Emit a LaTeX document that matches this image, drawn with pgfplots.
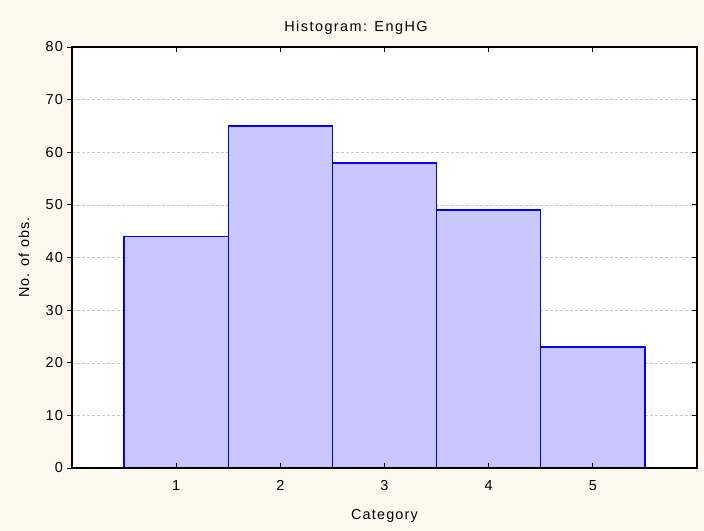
\documentclass[border=0pt]{standalone}
\usepackage{fontspec}
\setmainfont{Liberation Sans}[LetterSpace=8]
\newfontfamily\titlefont{Liberation Sans}[LetterSpace=10]
\usepackage{pgfplots}
\pgfplotsset{compat=1.18}
\definecolor{bgcream}{RGB}{253,249,238}
\definecolor{barfill}{RGB}{200,200,255}
\newcommand{\chartfont}{\fontsize{14.5}{17}\selectfont}
\begin{document}
\chartfont
\begin{tikzpicture}
\fill[bgcream] (-72bp,-63bp) rectangle (632bp,468bp);
\useasboundingbox (-72bp,-63bp) rectangle (632bp,468bp);
% main axis: bars, grid, labels
\begin{axis}[
  at={(0,0)}, anchor=south west,
  scale only axis, width=625bp, height=421bp,
  xmin=0, xmax=6, ymin=0, ymax=80,
  xtick={1,...,5}, ytick={0,10,...,80},
  xtick align=inside, ytick pos=left, ytick align=outside,
  major tick length=5bp,
  tick style={black, line width=0.8pt},
  /pgf/number format/assume math mode=true,
  tick label style={font=\chartfont},
  label style={font=\chartfont},
  axis background/.style={fill=white},
  axis line style={black, line width=1pt},
  ymajorgrids,
  grid style={densely dashed, gray!45, line width=0.4pt},
  xticklabel style={inner sep=0pt, yshift=-12bp},
  yticklabel style={inner sep=0pt, xshift=-4bp},
  title={\titlefont Histogram: EngHG},
  title style={font=\chartfont, at={(axis description cs:0.4544,1)}, anchor=south, yshift=6bp, inner sep=0pt},
  xlabel={Category},
  xlabel style={at={(axis description cs:0.5,0)}, anchor=north, yshift=-41bp, inner sep=0pt},
  ylabel={No. of obs.},
  ylabel style={at={(axis description cs:-0.068,0.5)}, anchor=south, rotate=0, inner sep=0pt},
]
\addplot[ybar interval, fill=barfill, draw=blue, line width=1.5pt]
  coordinates {(0.5,44) (1.5,65) (2.5,58) (3.5,49) (4.5,23) (5.5,23)};
\end{axis}
% overlay axis: frame on top and inward ticks on the right
\begin{axis}[
  at={(0,0)}, anchor=south west,
  scale only axis, width=625bp, height=421bp,
  xmin=0, xmax=6, ymin=0, ymax=80,
  xtick={1,...,5}, ytick={0,10,...,80},
  xticklabels={}, yticklabels={},
  xtick align=inside, ytick pos=right, ytick align=inside,
  major tick length=5bp,
  tick style={black, line width=0.8pt},
  axis line style={black, line width=1.1pt},
]
\end{axis}
\end{tikzpicture}
\end{document}
